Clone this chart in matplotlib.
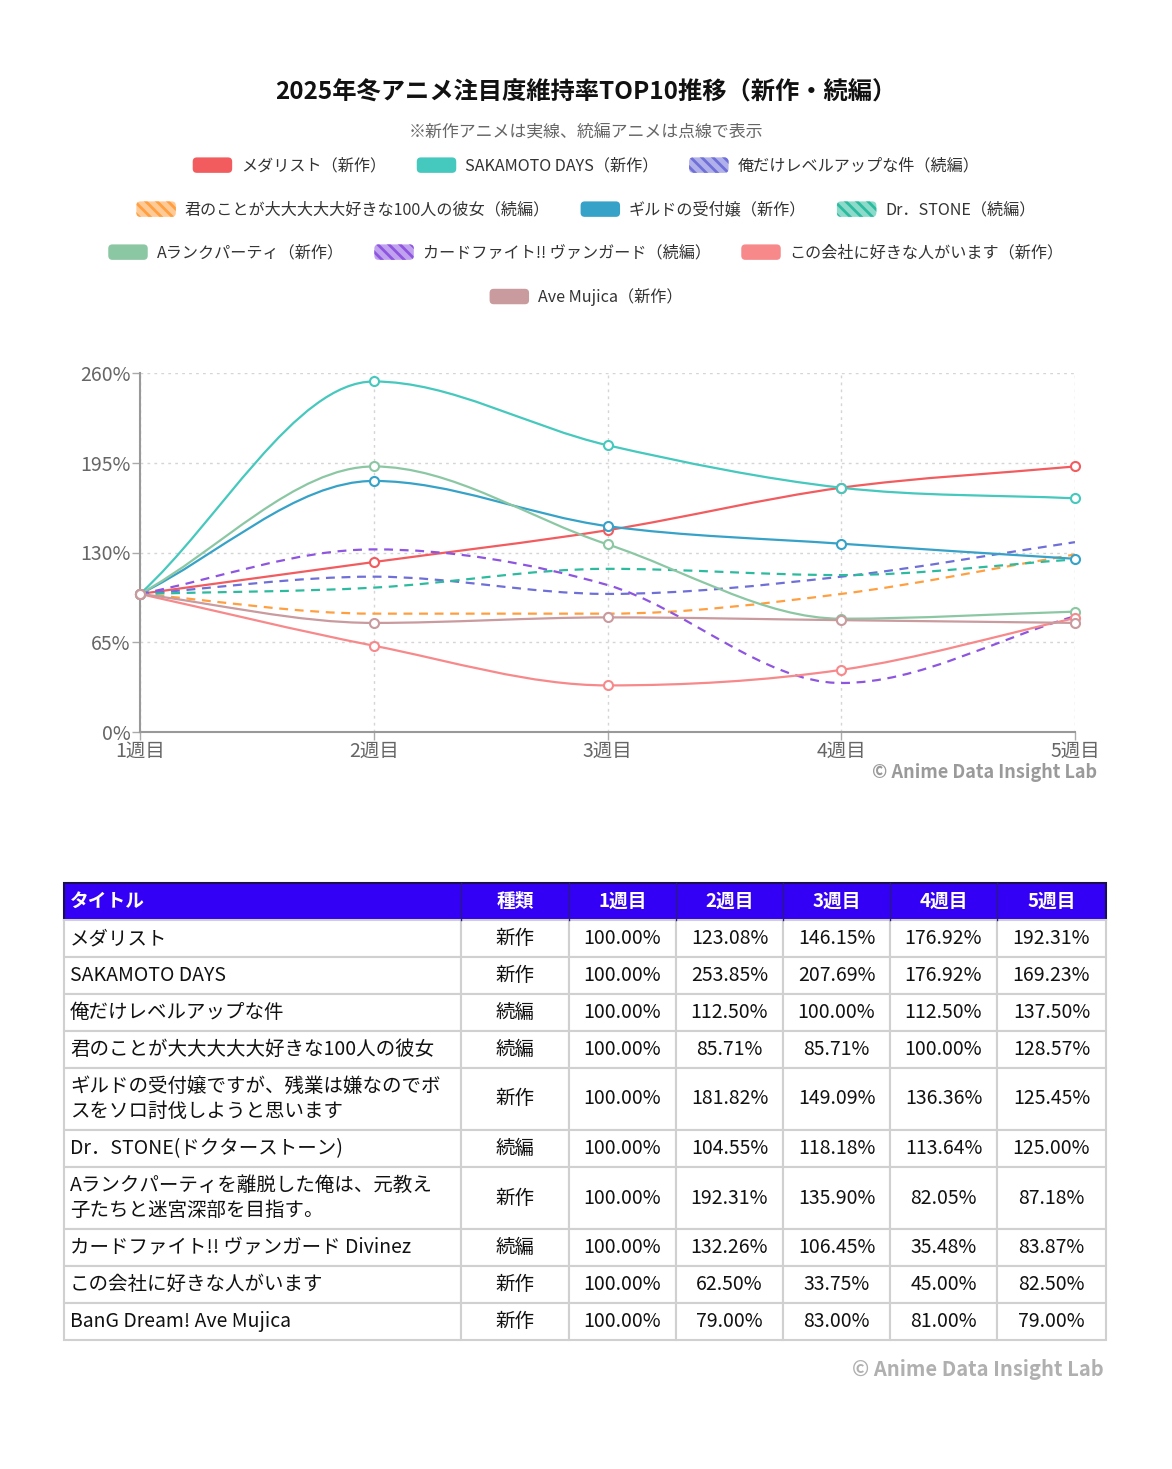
import numpy as np
import matplotlib
matplotlib.use("Agg")
import matplotlib.pyplot as plt
from matplotlib.path import Path
from matplotlib.patches import PathPatch, Rectangle, FancyBboxPatch, Patch
from matplotlib.legend_handler import HandlerPatch
from matplotlib.colors import to_rgb

plt.rcParams['font.family'] = ['Noto Sans CJK JP', 'DejaVu Sans']
plt.rcParams['hatch.linewidth'] = 2.0

# ---- data ----
weeks = ["1週目", "2週目", "3週目", "4週目", "5週目"]
legend_labels = [
    "メダリスト（新作）", "SAKAMOTO DAYS（新作）", "俺だけレベルアップな件（続編）",
    "君のことが大大大大大好きな100人の彼女（続編）", "ギルドの受付嬢（新作）", "Dr．STONE（続編）",
    "Aランクパーティ（新作）", "カードファイト!! ヴァンガード（続編）", "この会社に好きな人がいます（新作）",
    "Ave Mujica（新作）",
]
table_titles = [
    "メダリスト",
    "SAKAMOTO DAYS",
    "俺だけレベルアップな件",
    "君のことが大大大大大好きな100人の彼女",
    "ギルドの受付嬢ですが、残業は嫌なのでボ\nスをソロ討伐しようと思います",
    "Dr．STONE(ドクターストーン)",
    "Aランクパーティを離脱した俺は、元教え\n子たちと迷宮深部を目指す。",
    "カードファイト!! ヴァンガード Divinez",
    "この会社に好きな人がいます",
    "BanG Dream! Ave Mujica",
]
kinds = ["新作", "新作", "続編", "続編", "新作", "続編", "新作", "続編", "新作", "新作"]
medalist = [100.00, 123.08, 146.15, 176.92, 192.31]
sakamoto = [100.00, 253.85, 207.69, 176.92, 169.23]
solo_leveling = [100.00, 112.50, 100.00, 112.50, 137.50]
kanojo100 = [100.00, 85.71, 85.71, 100.00, 128.57]
guild = [100.00, 181.82, 149.09, 136.36, 125.45]
dr_stone = [100.00, 104.55, 118.18, 113.64, 125.00]
a_rank = [100.00, 192.31, 135.90, 82.05, 87.18]
vanguard = [100.00, 132.26, 106.45, 35.48, 83.87]
kono_kaisha = [100.00, 62.50, 33.75, 45.00, 82.50]
ave_mujica = [100.00, 79.00, 83.00, 81.00, 79.00]
series = [medalist, sakamoto, solo_leveling, kanojo100, guild,
          dr_stone, a_rank, vanguard, kono_kaisha, ave_mujica]
colors = ["#f25c5f", "#45c8bd", "#6f6fd8", "#ff9f40", "#36a2c8",
          "#2dbb9f", "#8cc7a4", "#8e55e0", "#f7898b", "#c99a9e"]
table_header = ["タイトル", "種類"] + weeks

W, H = 1172, 1469
fig = plt.figure(figsize=(W / 100, H / 100), dpi=100)
fig.patch.set_facecolor("white")


def fx(px):
    return px / W


def fy(py):
    return 1 - py / H


# ---- title / subtitle ----
fig.text(0.5, fy(93), "2025年冬アニメ注目度維持率TOP10推移（新作・続編）",
         ha="center", va="center", fontsize=17.5, fontweight="bold", color="#111111")
fig.text(0.5, fy(132), "※新作アニメは実線、統編アニメは点線で表示",
         ha="center", va="center", fontsize=12.2, color="#666666")


# ---- legend (rounded boxes, hatched for sequels) ----
class RoundBoxHandler(HandlerPatch):
    def create_artists(self, legend, orig_handle, xdescent, ydescent,
                       width, height, fontsize, trans):
        p = FancyBboxPatch((-xdescent, -ydescent), width, height,
                           boxstyle="round,pad=0,rounding_size=3",
                           facecolor=orig_handle.get_facecolor(),
                           edgecolor=orig_handle.get_edgecolor(),
                           hatch=orig_handle.get_hatch(), lw=0, transform=trans)
        return [p]


def lighten(c, f):
    r, g, b = to_rgb(c)
    return (r + (1 - r) * f, g + (1 - g) * f, b + (1 - b) * f)


handles = []
for lab, col, kind in zip(legend_labels, colors, kinds):
    if kind == "続編":
        handles.append(Patch(facecolor=lighten(col, 0.45), edgecolor=col, hatch="\\\\\\"))
    else:
        handles.append(Patch(facecolor=col, edgecolor=col))

rows = [(0, 3, 166), (3, 6, 210), (6, 9, 253), (9, 10, 297)]
for a, b, y in rows:
    fig.legend(handles[a:b], legend_labels[a:b], loc="center",
               bbox_to_anchor=(0.5, fy(y)), ncol=b - a, frameon=False,
               fontsize=11.6, handlelength=2.45, handleheight=1.1,
               handletextpad=0.55, columnspacing=1.9, labelcolor="#333333",
               handler_map={Patch: RoundBoxHandler()})

# ---- line chart ----
ax = fig.add_axes([fx(140), fy(732), fx(1075) - fx(140), fy(373) - fy(732)])
x_idx = np.arange(len(weeks))


def monotone_path(xs, ys):
    # monotone cubic (Fritsch-Carlson) as used for smooth chart lines
    xs = np.asarray(xs, float)
    ys = np.asarray(ys, float)
    n = len(xs)
    dk = np.diff(ys) / np.diff(xs)
    mk = np.zeros(n)
    mk[0] = dk[0]
    mk[-1] = dk[-1]
    for i in range(1, n - 1):
        if np.sign(dk[i - 1]) != np.sign(dk[i]):
            mk[i] = 0
        else:
            mk[i] = (dk[i - 1] + dk[i]) / 2
    for i in range(n - 1):
        if abs(dk[i]) < 1e-9:
            mk[i] = mk[i + 1] = 0
            continue
        al = mk[i] / dk[i]
        be = mk[i + 1] / dk[i]
        sq = al * al + be * be
        if sq <= 9:
            continue
        tau = 3 / np.sqrt(sq)
        mk[i] = al * tau * dk[i]
        mk[i + 1] = be * tau * dk[i]
    verts = [(xs[0], ys[0])]
    codes = [Path.MOVETO]
    for i in range(1, n):
        d = (xs[i] - xs[i - 1]) / 3
        verts += [(xs[i - 1] + d, ys[i - 1] + d * mk[i - 1]),
                  (xs[i] - d, ys[i] - d * mk[i]),
                  (xs[i], ys[i])]
        codes += [Path.CURVE4] * 3
    return Path(verts, codes)


for vals, col, kind in zip(series, colors, kinds):
    dashed = kind == "続編"
    patch = PathPatch(monotone_path(x_idx, vals), facecolor="none", edgecolor=col,
                      lw=1.6, linestyle=(0, (4, 3)) if dashed else "-",
                      zorder=3, capstyle="butt")
    ax.add_patch(patch)
    if not dashed:
        ax.plot(x_idx, vals, linestyle="none", marker="o", markersize=6.5,
                markerfacecolor="white", markeredgecolor=col, markeredgewidth=1.5,
                zorder=4, clip_on=False)

ax.set_xlim(0, len(weeks) - 1)
ax.set_ylim(0, 260)
ax.set_xticks(x_idx)
ax.set_xticklabels(weeks)
yt = [0, 65, 130, 195, 260]
ax.set_yticks(yt)
ax.set_yticklabels([f"{v}%" for v in yt])
ax.tick_params(axis="both", colors="#aaaaaa", labelcolor="#666666", labelsize=14,
               length=6, width=1)
ax.tick_params(axis="x", pad=0)
ax.tick_params(axis="y", pad=1)
ax.grid(True, color="#d5d5d5", linestyle=(0, (2, 3)), lw=1)
for s in ["top", "right"]:
    ax.spines[s].set_visible(False)
for s in ["left", "bottom"]:
    ax.spines[s].set_color("#999999")
    ax.spines[s].set_linewidth(1.5)
ax.set_axisbelow(True)

fig.text(fx(1097), fy(772), "© Anime Data Insight Lab", ha="right", va="center",
         fontsize=13, fontweight="bold", color="#9a9a9a")

# ---- table ----
tb = fig.add_axes([0, 0, 1, 1], zorder=-1)
tb.set_xlim(0, W)
tb.set_ylim(H, 0)
tb.axis("off")

col_edges = [64, 461, 569, 676, 783, 890, 997, 1106]
header_h = 37
line_h = 37
extra_line_h = 25
top = 883

tb.add_patch(Rectangle((col_edges[0], top), col_edges[-1] - col_edges[0], header_h,
                       facecolor="#3300f5", edgecolor="#1a1050", lw=1.5))
for c, lab in enumerate(table_header):
    x0, x1 = col_edges[c], col_edges[c + 1]
    if c > 0:
        tb.plot([x0, x0], [top, top + header_h], color="#2a1a80", lw=1)
    if c == 0:
        tb.text(x0 + 6, top + header_h / 2, lab, ha="left", va="center",
                fontsize=13.5, fontweight="bold", color="white")
    else:
        tb.text((x0 + x1) / 2, top + header_h / 2, lab, ha="center", va="center",
                fontsize=13.5, fontweight="bold", color="white")

y = top + header_h
for title, kind, vals in zip(table_titles, kinds, series):
    nlines = title.count("\n") + 1
    h = line_h + extra_line_h * (nlines - 1)
    cells = [title, kind] + [f"{v:.2f}%" for v in vals]
    for c, txt in enumerate(cells):
        x0, x1 = col_edges[c], col_edges[c + 1]
        tb.add_patch(Rectangle((x0, y), x1 - x0, h, facecolor="white",
                               edgecolor="#d0d0d0", lw=1.5))
        if c == 0:
            tb.text(x0 + 6, y + h / 2, txt, ha="left", va="center", fontsize=14,
                    color="#111111", linespacing=1.3)
        else:
            tb.text((x0 + x1) / 2, y + h / 2, txt, ha="center", va="center",
                    fontsize=14, color="#111111")
    y += h

fig.text(fx(1104), fy(1370), "© Anime Data Insight Lab", ha="right", va="center",
         fontsize=14.5, fontweight="bold", color="#b0b0b0")

fig.savefig("out.png", dpi=100, facecolor="white")
